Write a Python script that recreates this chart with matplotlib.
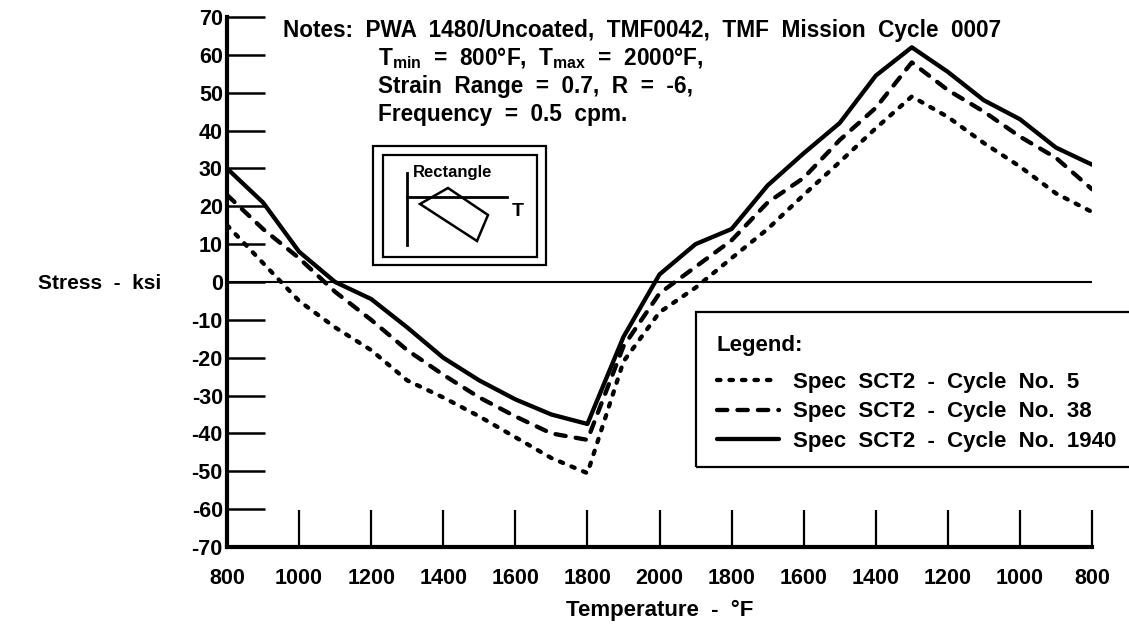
import matplotlib
matplotlib.use("Agg")
import matplotlib.pyplot as plt
from matplotlib.patches import Rectangle, Polygon
from matplotlib.lines import Line2D

# ---------------- data ----------------
# temperature path of the cycle, in 100 F steps (heating 800->2000, cooling 2000->800)
temps = [800, 900, 1000, 1100, 1200, 1300, 1400, 1500, 1600, 1700, 1800, 1900, 2000,
         1900, 1800, 1700, 1600, 1500, 1400, 1300, 1200, 1100, 1000, 900, 800]
positions = list(range(len(temps)))

cycle5 = [15, 5, -5, -12, -18, -26, -30.5, -35.5, -41, -46.5, -50.5, -21, -8,
          -1.5, 6.3, 14, 23, 31.7, 40.6, 49, 43.6, 36.7, 30.5, 23.4, 18.5]
cycle38 = [23, 14, 6.3, -2.6, -10, -18, -24.5, -30.5, -35.5, -40, -41.7, -17, -3,
           4, 11, 21, 27.5, 37.5, 46, 58, 50.7, 45, 38.4, 32.8, 24.5]
cycle1940 = [30, 21, 8, 0, -4.5, -12, -20, -26, -31, -35, -37.5, -14.5, 2,
             10, 14, 25.5, 34, 42, 54.5, 62, 55.5, 48, 43, 35.5, 31]

x_tick_pos = [0, 2, 4, 6, 8, 10, 12, 14, 16, 18, 20, 22, 24]
x_tick_labels = ["800", "1000", "1200", "1400", "1600", "1800", "2000",
                 "1800", "1600", "1400", "1200", "1000", "800"]
y_ticks = [-70, -60, -50, -40, -30, -20, -10, 0, 10, 20, 30, 40, 50, 60, 70]
y_tick_labels = ["-70", "-60", "-50", "-40", "-30", "-20", "-10", "0",
                 "10", "20", "30", "40", "50", "60", "70"]
series_labels = ["Spec  SCT2  -  Cycle  No.  5", "Spec  SCT2  -  Cycle  No.  38",
                 "Spec  SCT2  -  Cycle  No.  1940"]

# ---------------- style ----------------
plt.rcParams["font.family"] = ["Liberation Sans", "DejaVu Sans"]
plt.rcParams["font.weight"] = "bold"
plt.rcParams["mathtext.fontset"] = "custom"
plt.rcParams["mathtext.rm"] = "Liberation Sans:bold"
plt.rcParams["mathtext.default"] = "regular"

W, H = 1129, 624
fig = plt.figure(figsize=(W / 100, H / 100), dpi=100)
ax = fig.add_axes([227 / W, 1 - 547 / H, (1092 - 227) / W, (547 - 17) / H])

lw = 3.1
ax.plot(positions, cycle5, color="black", lw=lw, linestyle=(0, (0.8, 2.1)),
        dash_capstyle="round", label=series_labels[0])
ax.plot(positions, cycle38, color="black", lw=lw, linestyle=(0, (2.4, 2.35)),
        dash_capstyle="round", label=series_labels[1])
ax.plot(positions, cycle1940, color="black", lw=lw, solid_capstyle="round",
        solid_joinstyle="round", label=series_labels[2])

ax.axhline(0, color="black", lw=1.5)

ax.set_xlim(0, 24)
ax.set_ylim(-70, 70)
ax.set_xticks(x_tick_pos)
ax.set_xticklabels(x_tick_labels)
ax.set_yticks(y_ticks)
ax.set_yticklabels(y_tick_labels)
ax.tick_params(axis="x", direction="in", length=26.5, width=1.6, pad=15,
               labelsize=15.5)
ax.tick_params(axis="y", direction="in", length=27, width=1.8, pad=3,
               labelsize=15.5)
for s in ["top", "right"]:
    ax.spines[s].set_visible(False)
for s in ["left", "bottom"]:
    ax.spines[s].set_linewidth(3)
ax.patch.set_alpha(0)

fig.text(38 / W, 1 - 284 / H, "Stress  -  ksi", fontsize=15, ha="left",
         va="center")
fig.text(660 / W, 1 - 610 / H, "Temperature  -  °F", fontsize=16, ha="center",
         va="center")

# notes
fig.text(283 / W, 1 - 30 / H,
         "Notes:  PWA  1480/Uncoated,  TMF0042,  TMF  Mission  Cycle  0007",
         fontsize=16.3, ha="left", va="center")
fig.text(378 / W, 1 - 58 / H, "T$_{min}$  =  800°F,  T$_{max}$  =  2000°F,",
         fontsize=16.3, ha="left", va="center")
fig.text(378 / W, 1 - 86 / H, "Strain  Range  =  0.7,  R  =  -6,",
         fontsize=16.3, ha="left", va="center")
fig.text(378 / W, 1 - 114 / H, "Frequency  =  0.5  cpm.",
         fontsize=16.3, ha="left", va="center")


# inset sketch (in pixel coordinates of the figure)
def P(x, y):
    return (x / W, 1 - y / H)


def rect(x0, y0, x1, y1, lwid=1.6):
    r = Rectangle(P(x0, y1), (x1 - x0) / W, (y1 - y0) / H, transform=fig.transFigure,
                  fill=False, edgecolor="black", lw=lwid)
    fig.add_artist(r)


rect(373, 146, 546, 265)
rect(383, 155, 537, 257)
fig.add_artist(Line2D([407 / W, 407 / W], [1 - 173 / H, 1 - 245 / H],
                      transform=fig.transFigure, color="black", lw=2))
fig.add_artist(Line2D([407 / W, 507 / W], [1 - 197 / H, 1 - 197 / H],
                      transform=fig.transFigure, color="black", lw=2))
fig.add_artist(Polygon([P(448, 188), P(488, 215), P(477, 241), P(420, 204)],
                       closed=True, fill=False, edgecolor="black", lw=1.8,
                       transform=fig.transFigure))
fig.text(413 / W, 1 - 172 / H, "Rectangle", fontsize=12, ha="left",
         va="center")
fig.text(518 / W, 1 - 212 / H, "T", fontsize=14, ha="center", va="center")

# legend box, title and entries
rect(696, 312, 1140, 467)
fig.text(717 / W, 1 - 345 / H, "Legend:", fontsize=16, ha="left", va="center")
leg = ax.legend(loc="upper left", bbox_to_anchor=(717 / W, 1 - 372 / H),
                bbox_transform=fig.transFigure, borderaxespad=0,
                fontsize=16, frameon=False, handlelength=2.8,
                handletextpad=0.6, labelspacing=0.38, borderpad=0)

fig.savefig("out.png", dpi=100)
